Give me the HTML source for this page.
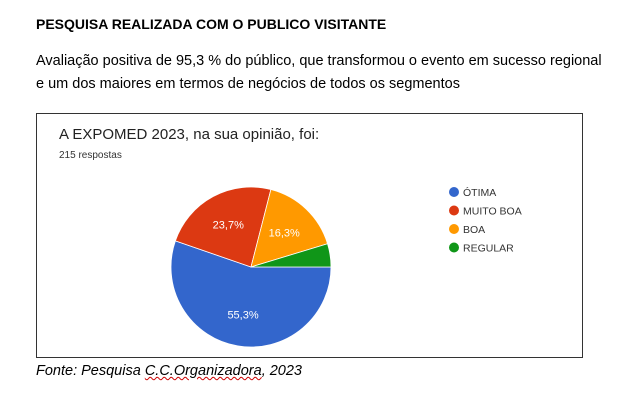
<!DOCTYPE html>
<html><head><meta charset="utf-8"><style>
body{margin:0;width:623px;height:416px;background:#fff;position:relative;font-family:"Liberation Sans",sans-serif;overflow:hidden}
.t{position:absolute;white-space:nowrap}
</style></head><body>
<div class="t" style="left:36px;top:16px;font-size:14px;font-weight:bold;color:#000">PESQUISA REALIZADA COM O PUBLICO VISITANTE</div>
<div class="t" style="left:36px;top:50px;font-size:14.5px;line-height:23px;color:#000">Avaliação positiva de 95,3 % do público, que transformou o evento em sucesso regional<br>e um dos maiores em termos de negócios de todos os segmentos</div>
<div style="position:absolute;left:36px;top:113px;width:547px;height:245px;border:1px solid #333;box-sizing:border-box"></div>
<div class="t" style="left:59px;top:126px;font-size:15px;color:#222">A EXPOMED 2023, na sua opinião, foi:</div>
<div class="t" style="left:59px;top:150px;font-size:10px;color:#333">215 respostas</div>
<svg id="pie" width="623" height="416" style="position:absolute;left:0;top:0"></svg>
<div class="t" style="left:36px;top:363px;font-size:14.5px;font-style:italic;color:#000">Fonte: Pesquisa <span style="text-decoration:underline wavy #c00;text-decoration-thickness:1px">C.C.Organizadora</span>, 2023</div>
<script>
const categories=["ÓTIMA","MUITO BOA","BOA","REGULAR"];
const values=[55.3,23.7,16.3,4.7];
const labels=["55,3%","23,7%","16,3%",""];
const colors=["#3366cc","#dc3912","#ff9900","#109618"];
const svg=document.getElementById('pie');
const NS="http://www.w3.org/2000/svg";
const cx=251,cy=267,r=80;
const total=values.reduce((a,b)=>a+b,0);
let a0=0;
values.forEach((v,i)=>{
  const a1=a0+v/total*2*Math.PI;
  const x0=cx+r*Math.cos(a0),y0=cy+r*Math.sin(a0),x1=cx+r*Math.cos(a1),y1=cy+r*Math.sin(a1);
  const p=document.createElementNS(NS,'path');
  p.setAttribute('d',`M${cx},${cy}L${x0},${y0}A${r},${r} 0 ${a1-a0>Math.PI?1:0} 1 ${x1},${y1}Z`);
  p.setAttribute('fill',colors[i]);p.setAttribute('stroke','#fff');p.setAttribute('stroke-width','0.8');
  
  
  svg.appendChild(p);
  if(labels[i]){
    const m=(a0+a1)/2;
    const t=document.createElementNS(NS,'text');
    t.setAttribute('x',cx+r*0.6*Math.cos(m));t.setAttribute('y',cy+r*0.6*Math.sin(m)+4);
    t.setAttribute('text-anchor','middle');t.setAttribute('fill','#fff');t.setAttribute('font-size','11');
    t.setAttribute('font-family','Liberation Sans, sans-serif');
    t.textContent=labels[i];
    
    
    svg.appendChild(t);
  }
  a0=a1;
});
categories.forEach((c,i)=>{
  const y=192+i*18.5;
  const d=document.createElementNS(NS,'circle');
  d.setAttribute('cx',454);d.setAttribute('cy',y);d.setAttribute('r',5);d.setAttribute('fill',colors[i]);
  
  
  svg.appendChild(d);
  const t=document.createElementNS(NS,'text');
  t.setAttribute('x',463);t.setAttribute('y',y+4);t.setAttribute('font-size','10.5');t.setAttribute('fill','#333');
  t.setAttribute('font-family','Liberation Sans, sans-serif');
  t.textContent=c;
  
  
  svg.appendChild(t);
});
</script>
</body></html>
